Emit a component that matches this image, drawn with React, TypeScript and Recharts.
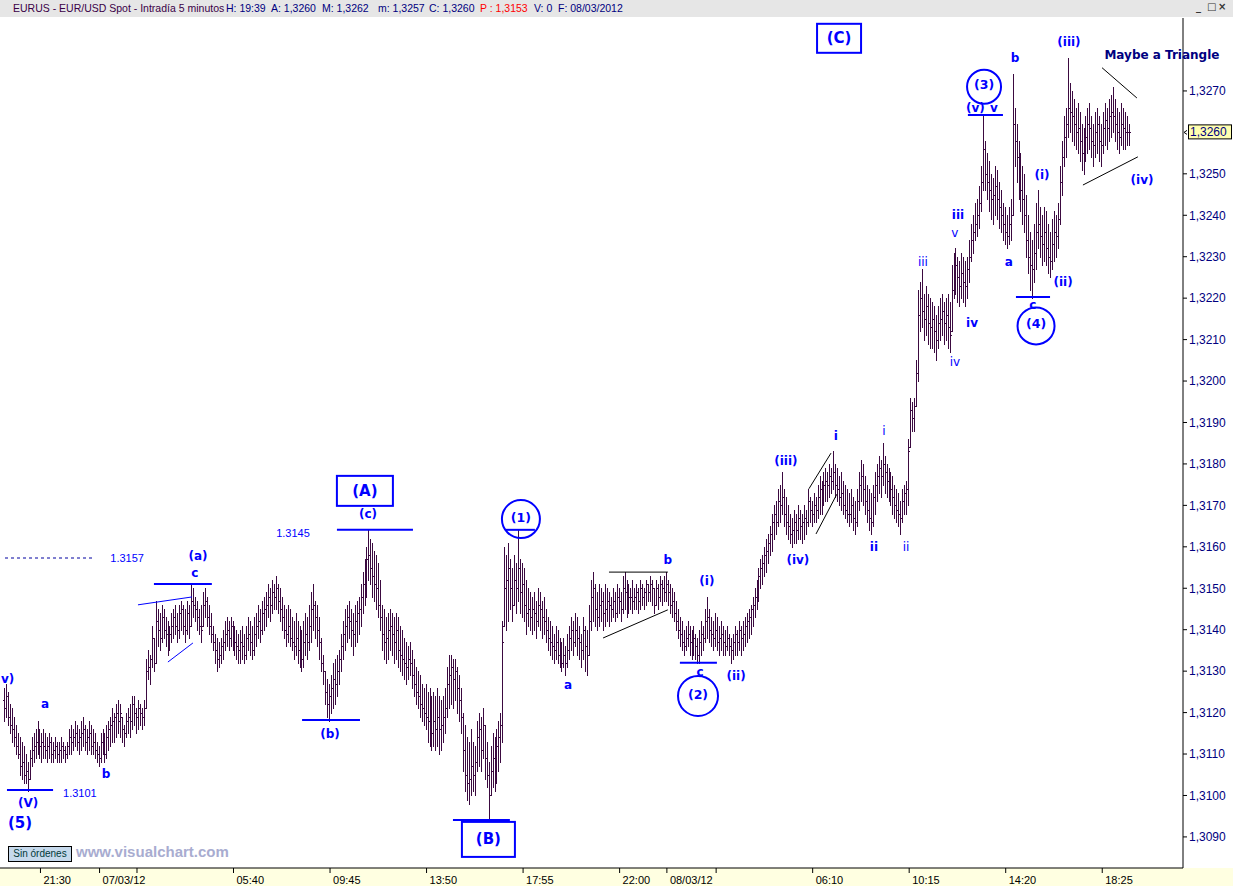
import React from 'react';
import { ComposedChart, Bar, XAxis, YAxis, ReferenceLine, ReferenceDot } from 'recharts';

// EUR/USD spot, 5 minute bars from 06/03/12 20:00 to 08/03/12 19:35.
// All series are pips above 1,3000 (126 -> 1,3126).
const BASE = 1.3;
const p = (pips: number) => BASE + pips / 10000;

const highs = [
  126, 127, 125, 122, 121, 119, 117, 115, 114, 113,
  112, 110, 108, 111, 114, 115, 116, 118, 116, 115,
  116, 115, 114, 115, 114, 113, 114, 113, 113, 114,
  113, 112, 113, 116, 117, 116, 118, 117, 116, 118,
  119, 117, 116, 118, 117, 116, 115, 113, 112, 115,
  116, 115, 117, 118, 119, 121, 120, 122, 123, 122,
  119, 117, 120, 121, 122, 124, 124, 121, 123, 122,
  121, 123, 133, 135, 134, 141, 138, 147, 145, 144,
  146, 145, 143, 142, 141, 144, 145, 146, 144, 146,
  147, 146, 145, 147, 146, 151, 150, 148, 147, 145,
  146, 149, 150, 148, 146, 144, 141, 139, 138, 137,
  138, 140, 142, 143, 142, 143, 142, 141, 140, 139,
  140, 141, 139, 141, 143, 142, 141, 143, 144, 146,
  145, 147, 148, 149, 151, 150, 152, 151, 153, 151,
  150, 148, 146, 145, 146, 145, 143, 142, 144, 142,
  141, 140, 142, 144, 143, 146, 149, 151, 147, 146,
  143, 138, 134, 130, 128, 127, 129, 132, 133, 134,
  135, 139, 142, 145, 146, 147, 145, 144, 146, 147,
  148, 151, 154, 157, 160, 164, 162, 161, 159, 158,
  156, 152, 146, 145, 143, 144, 145, 144, 143, 144,
  143, 141, 140, 138, 137, 136, 137, 135, 133, 131,
  130, 129, 127, 126, 127, 125, 126, 124, 125, 124,
  126, 124, 123, 124, 126, 131, 134, 134, 133, 133,
  131, 129, 126, 120, 117, 114, 113, 116, 113, 112,
  118, 120, 119, 121, 117, 113, 108, 112, 115, 114,
  116, 118, 120, 142, 160, 158, 161, 157, 155, 158,
  156, 164, 157, 156, 155, 152, 150, 149, 148, 149,
  147, 150, 149, 147, 148, 145, 143, 142, 141, 139,
  141, 140, 138, 137, 138, 136, 139, 141, 143, 142,
  144, 143, 141, 139, 143, 141, 140, 146, 152, 154,
  151, 149, 151, 150, 149, 151, 150, 149, 148, 150,
  149, 151, 150, 149, 153, 154, 152, 151, 150, 152,
  150, 151, 150, 152, 151, 150, 152, 151, 153, 152,
  150, 152, 151, 153, 152, 153, 154, 152, 151, 150,
  149, 147, 145, 143, 142, 140, 141, 142, 141, 140,
  141, 139, 138, 140, 142, 141, 145, 148, 145, 143,
  142, 144, 143, 141, 142, 141, 140, 141, 139, 138,
  139, 141, 140, 142, 141, 142, 143, 144, 145, 146,
  148, 150, 152, 155, 157, 158, 160, 162, 163, 165,
  168, 170, 171, 174, 175, 178, 174, 172, 170, 168,
  167, 169, 168, 170, 169, 168, 170, 169, 174, 172,
  171, 173, 172, 175, 177, 176, 178, 179, 178, 180,
  179, 183, 180, 179, 177, 178, 176, 175, 174, 173,
  174, 172, 171, 174, 178, 181, 180, 177, 175, 174,
  173, 175, 178, 180, 182, 181, 185, 182, 180, 179,
  178, 177, 175, 174, 173, 171, 174, 175, 176, 186,
  196, 195, 196, 205, 222, 224, 227, 221, 223, 221,
  220, 219, 218, 216, 218, 220, 221, 219, 220, 221,
  219, 228, 231, 232, 230, 229, 231, 230, 229, 230,
  234, 238, 240, 243, 244, 247, 252, 264, 258, 255,
  253, 250, 249, 252, 251, 248, 246, 243, 242, 240,
  242, 244, 274, 266, 262, 258, 255, 252, 250, 245,
  240, 236, 234, 238, 243, 246, 242, 240, 242, 241,
  238, 236, 239, 241, 240, 243, 252, 258, 264, 266,
  278, 272, 270, 268, 266, 267, 265, 262, 261, 264,
  266, 267, 264, 262, 265, 266, 264, 262, 265, 267,
  266, 268, 269, 271, 268, 266, 265, 267, 266, 265,
  264, 262,
];

const lows = [
  118, 119, 117, 115, 113, 112, 110, 109, 105, 104,
  103, 103, 101, 104, 107, 108, 109, 110, 109, 108,
  109, 109, 108, 109, 108, 108, 109, 108, 108, 108,
  109, 108, 109, 110, 110, 111, 112, 111, 110, 111,
  112, 111, 110, 111, 110, 110, 109, 108, 107, 108,
  110, 108, 109, 111, 112, 113, 113, 114, 115, 114,
  113, 112, 114, 115, 114, 116, 117, 115, 116, 117,
  116, 117, 121, 128, 127, 131, 130, 132, 136, 135,
  137, 138, 136, 134, 135, 137, 138, 139, 137, 138,
  140, 139, 137, 139, 138, 141, 143, 142, 140, 139,
  137, 141, 143, 141, 139, 137, 135, 132, 130, 131,
  132, 133, 135, 136, 135, 136, 135, 134, 133, 132,
  132, 133, 132, 133, 135, 134, 133, 134, 136, 138,
  137, 139, 140, 141, 143, 142, 144, 145, 145, 144,
  142, 140, 138, 136, 137, 136, 135, 133, 134, 132,
  131, 130, 131, 134, 133, 135, 137, 140, 138, 136,
  133, 130, 127, 122, 119, 118, 120, 121, 122, 124,
  127, 130, 133, 135, 137, 138, 136, 134, 136, 137,
  139, 141, 144, 146, 148, 152, 151, 148, 147, 145,
  143, 140, 135, 133, 132, 133, 135, 134, 132, 133,
  131, 130, 129, 128, 127, 128, 129, 126, 124, 122,
  121, 119, 118, 117, 116, 113, 112, 111, 112, 111,
  112, 110, 111, 113, 115, 119, 121, 122, 121, 123,
  120, 118, 115, 106, 101, 99, 98, 100, 101, 100,
  106, 107, 106, 109, 104, 102, 94, 100, 102, 101,
  103, 106, 108, 113, 141, 140, 142, 145, 142, 146,
  144, 147, 144, 143, 142, 139, 141, 140, 139, 140,
  138, 141, 140, 138, 139, 137, 135, 134, 133, 132,
  133, 132, 131, 130, 131, 129, 131, 133, 135, 134,
  136, 134, 133, 131, 133, 130, 129, 134, 140, 142,
  141, 140, 141, 142, 140, 141, 142, 141, 142, 143,
  142, 143, 144, 142, 144, 145, 143, 144, 145, 144,
  145, 145, 144, 145, 146, 145, 146, 147, 147, 146,
  144, 146, 145, 147, 146, 147, 147, 146, 144, 143,
  142, 140, 138, 136, 135, 134, 135, 136, 134, 133,
  134, 133, 132, 132, 134, 135, 137, 138, 137, 136,
  135, 136, 135, 134, 135, 134, 134, 135, 134, 132,
  133, 134, 134, 135, 134, 135, 136, 137, 138, 139,
  141, 143, 145, 147, 150, 151, 153, 154, 156, 158,
  159, 162, 163, 165, 166, 168, 165, 163, 162, 161,
  160, 161, 161, 162, 162, 161, 162, 163, 165, 166,
  165, 166, 166, 167, 168, 168, 170, 171, 171, 172,
  173, 174, 172, 171, 170, 169, 168, 167, 166, 165,
  166, 164, 163, 165, 169, 171, 170, 168, 166, 164,
  163, 165, 168, 171, 173, 172, 175, 173, 172, 171,
  170, 168, 167, 166, 165, 163, 166, 168, 168, 170,
  184, 188, 188, 194, 200, 212, 213, 210, 211, 209,
  208, 208, 207, 205, 208, 210, 211, 209, 210, 208,
  207, 212, 220, 221, 219, 218, 220, 219, 218, 220,
  224, 229, 231, 234, 235, 237, 241, 246, 246, 244,
  241, 239, 238, 240, 239, 237, 236, 234, 233, 232,
  233, 234, 240, 252, 248, 244, 241, 238, 236, 230,
  226, 222, 220, 224, 227, 232, 230, 228, 229, 228,
  226, 225, 227, 229, 230, 232, 238, 245, 252, 254,
  259, 260, 258, 257, 256, 255, 253, 251, 250, 253,
  255, 256, 254, 252, 254, 255, 253, 252, 255, 257,
  256, 258, 259, 260, 258, 256, 255, 257, 256, 256,
  257, 257,
];

const closes = [
  121, 124, 119, 117, 116, 114, 112, 110, 107, 108,
  105, 106, 104, 109, 111, 112, 113, 114, 112, 113,
  112, 111, 112, 113, 110, 111, 112, 110, 111, 112,
  111, 110, 112, 114, 113, 114, 115, 113, 114, 115,
  116, 113, 114, 115, 112, 113, 111, 110, 109, 113,
  112, 110, 114, 116, 117, 118, 119, 120, 118, 120,
  116, 115, 118, 119, 118, 122, 120, 119, 121, 120,
  119, 121, 130, 131, 133, 138, 132, 142, 140, 138,
  143, 140, 139, 137, 139, 141, 143, 141, 140, 144,
  145, 141, 140, 144, 141, 147, 146, 145, 143, 141,
  140, 146, 147, 143, 141, 139, 137, 135, 133, 134,
  136, 137, 139, 140, 138, 141, 139, 137, 136, 135,
  137, 136, 134, 138, 139, 137, 135, 139, 141, 142,
  140, 144, 145, 146, 148, 146, 149, 148, 150, 147,
  145, 143, 140, 139, 141, 138, 137, 136, 138, 135,
  134, 133, 137, 139, 137, 141, 145, 146, 143, 140,
  137, 132, 130, 125, 122, 124, 126, 128, 127, 130,
  133, 136, 139, 141, 143, 142, 140, 139, 142, 144,
  145, 148, 151, 153, 157, 158, 155, 153, 151, 150,
  146, 143, 139, 137, 138, 140, 141, 139, 137, 140,
  135, 134, 133, 132, 131, 133, 132, 129, 127, 125,
  124, 122, 121, 120, 119, 118, 117, 115, 118, 116,
  119, 116, 117, 119, 121, 127, 129, 131, 128, 130,
  126, 123, 119, 111, 105, 103, 104, 107, 105, 108,
  114, 116, 111, 117, 109, 105, 100, 106, 109, 107,
  112, 114, 117, 137, 150, 152, 155, 150, 146, 152,
  150, 155, 149, 151, 146, 144, 145, 143, 145, 144,
  142, 146, 145, 143, 142, 140, 138, 137, 136, 135,
  137, 134, 133, 132, 134, 132, 135, 138, 140, 137,
  140, 138, 137, 135, 140, 136, 134, 142, 148, 150,
  145, 143, 146, 147, 144, 145, 147, 146, 145, 147,
  144, 148, 147, 145, 150, 149, 146, 148, 148, 147,
  148, 149, 147, 150, 148, 149, 151, 149, 151, 150,
  146, 150, 148, 151, 150, 149, 151, 149, 146, 147,
  144, 142, 140, 139, 137, 136, 138, 139, 137, 135,
  138, 136, 134, 137, 139, 138, 142, 143, 140, 139,
  138, 140, 137, 138, 139, 137, 136, 138, 136, 135,
  137, 139, 137, 140, 138, 139, 141, 142, 143, 145,
  146, 148, 150, 153, 155, 156, 158, 159, 161, 163,
  166, 168, 166, 171, 170, 172, 168, 166, 165, 163,
  164, 166, 164, 167, 165, 166, 167, 166, 171, 169,
  168, 170, 169, 172, 174, 172, 175, 176, 175, 177,
  176, 178, 175, 174, 172, 173, 170, 169, 168, 168,
  170, 167, 166, 171, 175, 177, 174, 171, 169, 167,
  166, 172, 175, 177, 179, 177, 180, 178, 176, 175,
  174, 172, 170, 169, 168, 167, 171, 173, 174, 183,
  193, 191, 194, 202, 216, 220, 217, 215, 218, 214,
  213, 215, 212, 210, 214, 215, 217, 214, 216, 213,
  211, 222, 226, 228, 225, 223, 226, 224, 223, 227,
  230, 234, 236, 238, 240, 243, 248, 256, 250, 248,
  246, 244, 245, 247, 244, 242, 240, 238, 236, 235,
  238, 240, 262, 258, 254, 249, 246, 244, 240, 234,
  230, 228, 227, 231, 236, 238, 235, 233, 236, 232,
  230, 229, 233, 236, 235, 239, 248, 254, 259, 262,
  266, 265, 264, 262, 260, 261, 258, 255, 256, 259,
  262, 261, 258, 257, 260, 262, 258, 257, 261, 263,
  261, 264, 265, 264, 262, 260, 259, 262, 261, 260,
  260, 260,
];
const firstOpen = 123;

// time axis: one tick every 49 bars, labels left-aligned after the tick
const timeTicks = [18, 48, 67, 116, 165, 214, 263, 312, 336, 361, 410, 459, 508, 557];
const timeLabels = ['21:30', '07/03/12', '', '05:40', '09:45', '13:50', '17:55', '22:00', '08/03/12', '', '06:10', '10:15', '14:20', '18:25'];
const priceTicks = [1.309, 1.31, 1.311, 1.312, 1.313, 1.314, 1.315, 1.316, 1.317, 1.318, 1.319, 1.32, 1.321, 1.322, 1.323, 1.324, 1.325, 1.327];
const lastPrice = 1.326;

// Elliott wave annotations, placed in (bar index, pips) space
const waveTexts = [
  { bar: 1.3, pips: 128, text: 'v)', kind: 'bold' },
  { bar: 20.3, pips: 122, text: 'a', kind: 'bold' },
  { bar: 51.3, pips: 105.2, text: 'b', kind: 'bold' },
  { bar: 11.7, pips: 98.2, text: '(V)', kind: 'bold' },
  { bar: 38, pips: 100.6, text: '1.3101', kind: 'price' },
  { bar: 7.6, pips: 93.4, text: '(5)', kind: 'big' },
  { bar: 62, pips: 157.3, text: '1.3157', kind: 'price' },
  { bar: 98, pips: 157.8, text: '(a)', kind: 'bold' },
  { bar: 96.4, pips: 153.7, text: 'c', kind: 'bold' },
  { bar: 165, pips: 114.8, text: '(b)', kind: 'bold' },
  { bar: 146.2, pips: 163.3, text: '1.3145', kind: 'price' },
  { bar: 184.3, pips: 167.9, text: '(c)', kind: 'bold' },
  { bar: 336.5, pips: 156.8, text: 'b', kind: 'bold' },
  { bar: 285.8, pips: 126.7, text: 'a', kind: 'bold' },
  { bar: 356.3, pips: 151.8, text: '(i)', kind: 'bold' },
  { bar: 352.8, pips: 129.7, text: 'c', kind: 'bold' },
  { bar: 371.1, pips: 128.8, text: '(ii)', kind: 'bold' },
  { bar: 396.4, pips: 180.7, text: '(iii)', kind: 'bold' },
  { bar: 402.5, pips: 156.8, text: '(iv)', kind: 'bold' },
  { bar: 421.8, pips: 186.7, text: 'i', kind: 'bold' },
  { bar: 441.1, pips: 160, text: 'ii', kind: 'bold' },
  { bar: 446.2, pips: 188, text: 'i', kind: 'thin' },
  { bar: 457.4, pips: 160, text: 'ii', kind: 'thin' },
  { bar: 466, pips: 228.7, text: 'iii', kind: 'thin' },
  { bar: 482.2, pips: 204.6, text: 'iv', kind: 'thin' },
  { bar: 483.8, pips: 240.1, text: 'iii', kind: 'bold' },
  { bar: 482.2, pips: 235.7, text: 'v', kind: 'thin' },
  { bar: 490.9, pips: 214, text: 'iv', kind: 'bold' },
  { bar: 492.6, pips: 265.9, text: '(v)', kind: 'bold' },
  { bar: 502, pips: 265.9, text: 'v', kind: 'bold' },
  { bar: 512.7, pips: 278, text: 'b', kind: 'bold' },
  { bar: 509.6, pips: 228.7, text: 'a', kind: 'bold' },
  { bar: 526.4, pips: 249.7, text: '(i)', kind: 'bold' },
  { bar: 537.1, pips: 223.9, text: '(ii)', kind: 'bold' },
  { bar: 521.8, pips: 218.4, text: 'c', kind: 'bold' },
  { bar: 540.1, pips: 281.8, text: '(iii)', kind: 'bold' },
  { bar: 577.2, pips: 248.5, text: '(iv)', kind: 'bold' },
  { bar: 587.3, pips: 278.7, text: 'Maybe a Triangle', kind: 'note' },
];

const levelLines = [
  { b1: 1, b2: 24.4, pips: 101.3 },
  { b1: 75.6, b2: 105, pips: 151 },
  { b1: 150.8, b2: 180.2, pips: 118.2 },
  { b1: 168.5, b2: 207.1, pips: 164.1 },
  { b1: 227.4, b2: 256.3, pips: 94.1 },
  { b1: 253.8, b2: 269, pips: 164.1 },
  { b1: 342.6, b2: 361.4, pips: 132 },
  { b1: 488.8, b2: 506.6, pips: 264.2 },
  { b1: 513.2, b2: 530.5, pips: 220.3 },
];

const trendLines = [
  { b1: 67.5, p1: 146, b2: 94.9, p2: 147.9, blue: true },
  { b1: 82.7, p1: 132.2, b2: 95.4, p2: 136.8, blue: true },
  { b1: 306.6, p1: 153.9, b2: 336.5, p2: 153.9, blue: false },
  { b1: 303.6, p1: 138, b2: 336.5, p2: 144.8, blue: false },
  { b1: 408.1, p1: 174, b2: 419.3, p2: 182.6, blue: false },
  { b1: 411.7, p1: 163.1, b2: 422.3, p2: 172.7, blue: false },
  { b1: 556.9, p1: 275.6, b2: 574.6, p2: 268.3, blue: false },
  { b1: 547.2, p1: 247.3, b2: 575.1, p2: 254.1, blue: false },
];

const circles = [
  { bar: 261.9, pips: 166.7, r: 19, text: '(1)' },
  { bar: 351.8, pips: 124, r: 20, text: '(2)' },
  { bar: 497, pips: 271, r: 17, text: '(3)' },
  { bar: 523.4, pips: 213.3, r: 18.5, text: '(4)' },
];

const boxes = [
  { bar: 182.7, pips: 173.5, w: 56, h: 30, text: '(A)' },
  { bar: 245.4, pips: 89.4, w: 53, h: 35, text: '(B)' },
  { bar: 423.4, pips: 282.7, w: 44, h: 29, text: '(C)' },
];

const headerParts = [
  { x: 13, text: 'EURUS - EUR/USD Spot - Intradía 5 minutos', color: '#3a0046' },
  { x: 226, text: 'H: 19:39', color: '#000080' },
  { x: 271, text: 'A: 1,3260', color: '#000080' },
  { x: 322, text: 'M: 1,3262', color: '#000080' },
  { x: 378, text: 'm: 1,3257', color: '#000080' },
  { x: 429, text: 'C: 1,3260', color: '#000080' },
  { x: 480, text: 'P : 1,3153', color: '#ff0000' },
  { x: 534, text: 'V: 0', color: '#000080' },
  { x: 558, text: 'F: 08/03/2012', color: '#000080' },
];

const BLUE = '#0000ff';
const BAR_COLOR = '#3b0a40';
const SANS = '"Liberation Sans", Arial, sans-serif';
const WAVE = '"DejaVu Sans", Verdana, sans-serif';

const textStyles: Record<string, any> = {
  bold: { fontFamily: WAVE, fontSize: 12, fontWeight: 'bold', fill: BLUE },
  thin: { fontFamily: WAVE, fontSize: 12, fontWeight: 'normal', fill: BLUE },
  big: { fontFamily: WAVE, fontSize: 15, fontWeight: 'bold', fill: BLUE },
  price: { fontFamily: SANS, fontSize: 11, fontWeight: 'normal', fill: BLUE },
  note: { fontFamily: WAVE, fontSize: 12, fontWeight: 'bold', fill: '#000080' },
};

const bars = highs.map((h, i) => ({
  i,
  range: [p(lows[i]), p(h)],
  open: p(i === 0 ? firstOpen : closes[i - 1]),
  close: p(closes[i]),
}));

const OhlcBar = (props: any) => {
  const { x, y, width, height, payload } = props;
  if (!payload || x == null || y == null) return null;
  const top = Math.min(y, y + height);
  const bottom = Math.max(y, y + height);
  const [lo, hi] = payload.range;
  const k = hi > lo ? (bottom - top) / (hi - lo) : 0;
  const at = (v: number) => Math.round(top + (hi - Math.min(hi, Math.max(lo, v))) * k) + 0.5;
  const n = Math.floor(x + width / 2);
  const oy = at(payload.open);
  const cy = at(payload.close);
  return (
    <g stroke={BAR_COLOR} strokeWidth={1} shapeRendering="crispEdges">
      <line x1={n + 0.5} x2={n + 0.5} y1={Math.round(top)} y2={Math.round(bottom) + 1} />
      <line x1={n - 1} x2={n} y1={oy} y2={oy} />
      <line x1={n + 1} x2={n + 2} y1={cy} y2={cy} />
    </g>
  );
};

const TimeTick = (props: any) => {
  const { x, y, payload } = props;
  const label = timeLabels[timeTicks.indexOf(payload.value)] || '';
  return (
    <text x={x + 3} y={y + 9} fill="#000000" fontSize={11} fontFamily={SANS} textAnchor="start">
      {label}
    </text>
  );
};

const PriceBadge = (props: any) => {
  const { cx, cy } = props;
  return (
    <g>
      <polyline points={`${cx + 4},${cy - 2} ${cx + 1},${cy} ${cx + 4},${cy + 2}`} fill="none" stroke="#000" strokeWidth={1} />
      <rect x={cx + 5.5} y={cy - 7.5} width={43} height={14} fill="#ffffb0" stroke="#000" strokeWidth={1} />
      <text x={cx + 7} y={cy + 4} fill="#000080" fontSize={12} fontFamily={SANS}>
        1,3260
      </text>
    </g>
  );
};

export default function App() {
  return (
    <div style={{ position: 'absolute', left: 0, top: 0, width: 1233, height: 886, background: '#ffffff', overflow: 'hidden' }}>
      <div style={{ position: 'absolute', left: 0, top: 868, width: 1233, height: 18, background: '#ffffe1' }} />
      <div style={{ position: 'absolute', left: 0, top: 0 }}>
        <ComposedChart width={1233} height={886} data={bars} margin={{ top: 18, right: 0, bottom: 0, left: 0 }}>
          <XAxis
            dataKey="i"
            type="number"
            domain={[-2.54, 598]}
            allowDataOverflow
            ticks={timeTicks}
            tick={<TimeTick />}
            tickSize={5}
            height={18}
            axisLine={{ stroke: '#000' }}
            tickLine={{ stroke: '#000' }}
            interval={0}
          />
          <YAxis
            orientation="right"
            width={50}
            type="number"
            domain={[1.30825, 1.32876]}
            allowDataOverflow
            ticks={priceTicks}
            interval={0}
            tickSize={4}
            tickFormatter={(v: number) => v.toFixed(4).replace('.', ',')}
            tick={{ fill: '#000080', fontSize: 12, fontFamily: SANS }}
            axisLine={{ stroke: '#000' }}
            tickLine={{ stroke: '#000' }}
          />
          <Bar dataKey="range" barSize={1} shape={<OhlcBar />} isAnimationActive={false} />

          <ReferenceLine
            segment={[{ x: 0, y: p(157.3) }, { x: 44.7, y: p(157.3) }]}
            stroke="#0000a0"
            strokeDasharray="3 3"
            ifOverflow="visible"
          />
          {levelLines.map((l, k) => (
            <ReferenceLine
              key={`lv${k}`}
              segment={[{ x: l.b1, y: p(l.pips) }, { x: l.b2, y: p(l.pips) }]}
              stroke={BLUE}
              strokeWidth={2}
              ifOverflow="visible"
            />
          ))}
          {trendLines.map((l, k) => (
            <ReferenceLine
              key={`tr${k}`}
              segment={[{ x: l.b1, y: p(l.p1) }, { x: l.b2, y: p(l.p2) }]}
              stroke={l.blue ? BLUE : '#000000'}
              strokeWidth={1}
              ifOverflow="visible"
            />
          ))}
          {circles.map((c, k) => (
            <ReferenceDot
              key={`ci${k}`}
              x={c.bar}
              y={p(c.pips)}
              r={c.r}
              ifOverflow="visible"
              shape={(s: any) => (
                <g>
                  <circle cx={s.cx} cy={s.cy} r={c.r} fill="none" stroke={BLUE} strokeWidth={2} />
                  <text x={s.cx} y={s.cy - 2} textAnchor="middle" dominantBaseline="central" fontFamily={WAVE} fontSize={12.5} fontWeight="bold" fill={BLUE}>
                    {c.text}
                  </text>
                </g>
              )}
            />
          ))}
          {boxes.map((b, k) => (
            <ReferenceDot
              key={`bx${k}`}
              x={b.bar}
              y={p(b.pips)}
              r={1}
              ifOverflow="visible"
              shape={(s: any) => (
                <g>
                  <rect x={s.cx - b.w / 2} y={s.cy - b.h / 2} width={b.w} height={b.h} fill="none" stroke={BLUE} strokeWidth={2} />
                  <text x={s.cx} y={s.cy} textAnchor="middle" dominantBaseline="central" fontFamily={WAVE} fontSize={15} fontWeight="bold" fill={BLUE}>
                    {b.text}
                  </text>
                </g>
              )}
            />
          ))}
          {waveTexts.map((t, k) => (
            <ReferenceDot
              key={`tx${k}`}
              x={t.bar}
              y={p(t.pips)}
              r={1}
              ifOverflow="visible"
              shape={(s: any) => (
                <text x={s.cx} y={s.cy} textAnchor="middle" dominantBaseline="central" {...textStyles[t.kind]}>
                  {t.text}
                </text>
              )}
            />
          ))}
          <ReferenceDot x={598} y={lastPrice} r={1} ifOverflow="visible" shape={<PriceBadge />} />
        </ComposedChart>
      </div>

      <div style={{ position: 'absolute', left: 0, top: 0, width: 1233, height: 17, background: '#e6e6e6' }}>
        {headerParts.map((h) => (
          <span
            key={h.x}
            style={{ position: 'absolute', left: h.x, top: 2, fontFamily: SANS, fontSize: 10.5, color: h.color, whiteSpace: 'nowrap' }}
          >
            {h.text}
          </span>
        ))}
        {['_', '□', '×'].map((g, k) => (
          <span
            key={g}
            style={{ position: 'absolute', left: 1196 + k * 11, top: 1, fontFamily: WAVE, fontSize: 10, color: '#333', fontWeight: 'bold' }}
          >
            {g}
          </span>
        ))}
      </div>

      <div
        style={{
          position: 'absolute', left: 8, top: 846, width: 62, height: 14, border: '1px solid #000',
          background: '#c6d9ec', fontFamily: SANS, fontSize: 10, color: '#003838', lineHeight: '14px', textAlign: 'center',
        }}
      >
        Sin órdenes
      </div>
      <div style={{ position: 'absolute', left: 76, top: 843, fontFamily: SANS, fontSize: 15, fontWeight: 'bold', color: '#a8acd0' }}>
        www.visualchart.com
      </div>
    </div>
  );
}
